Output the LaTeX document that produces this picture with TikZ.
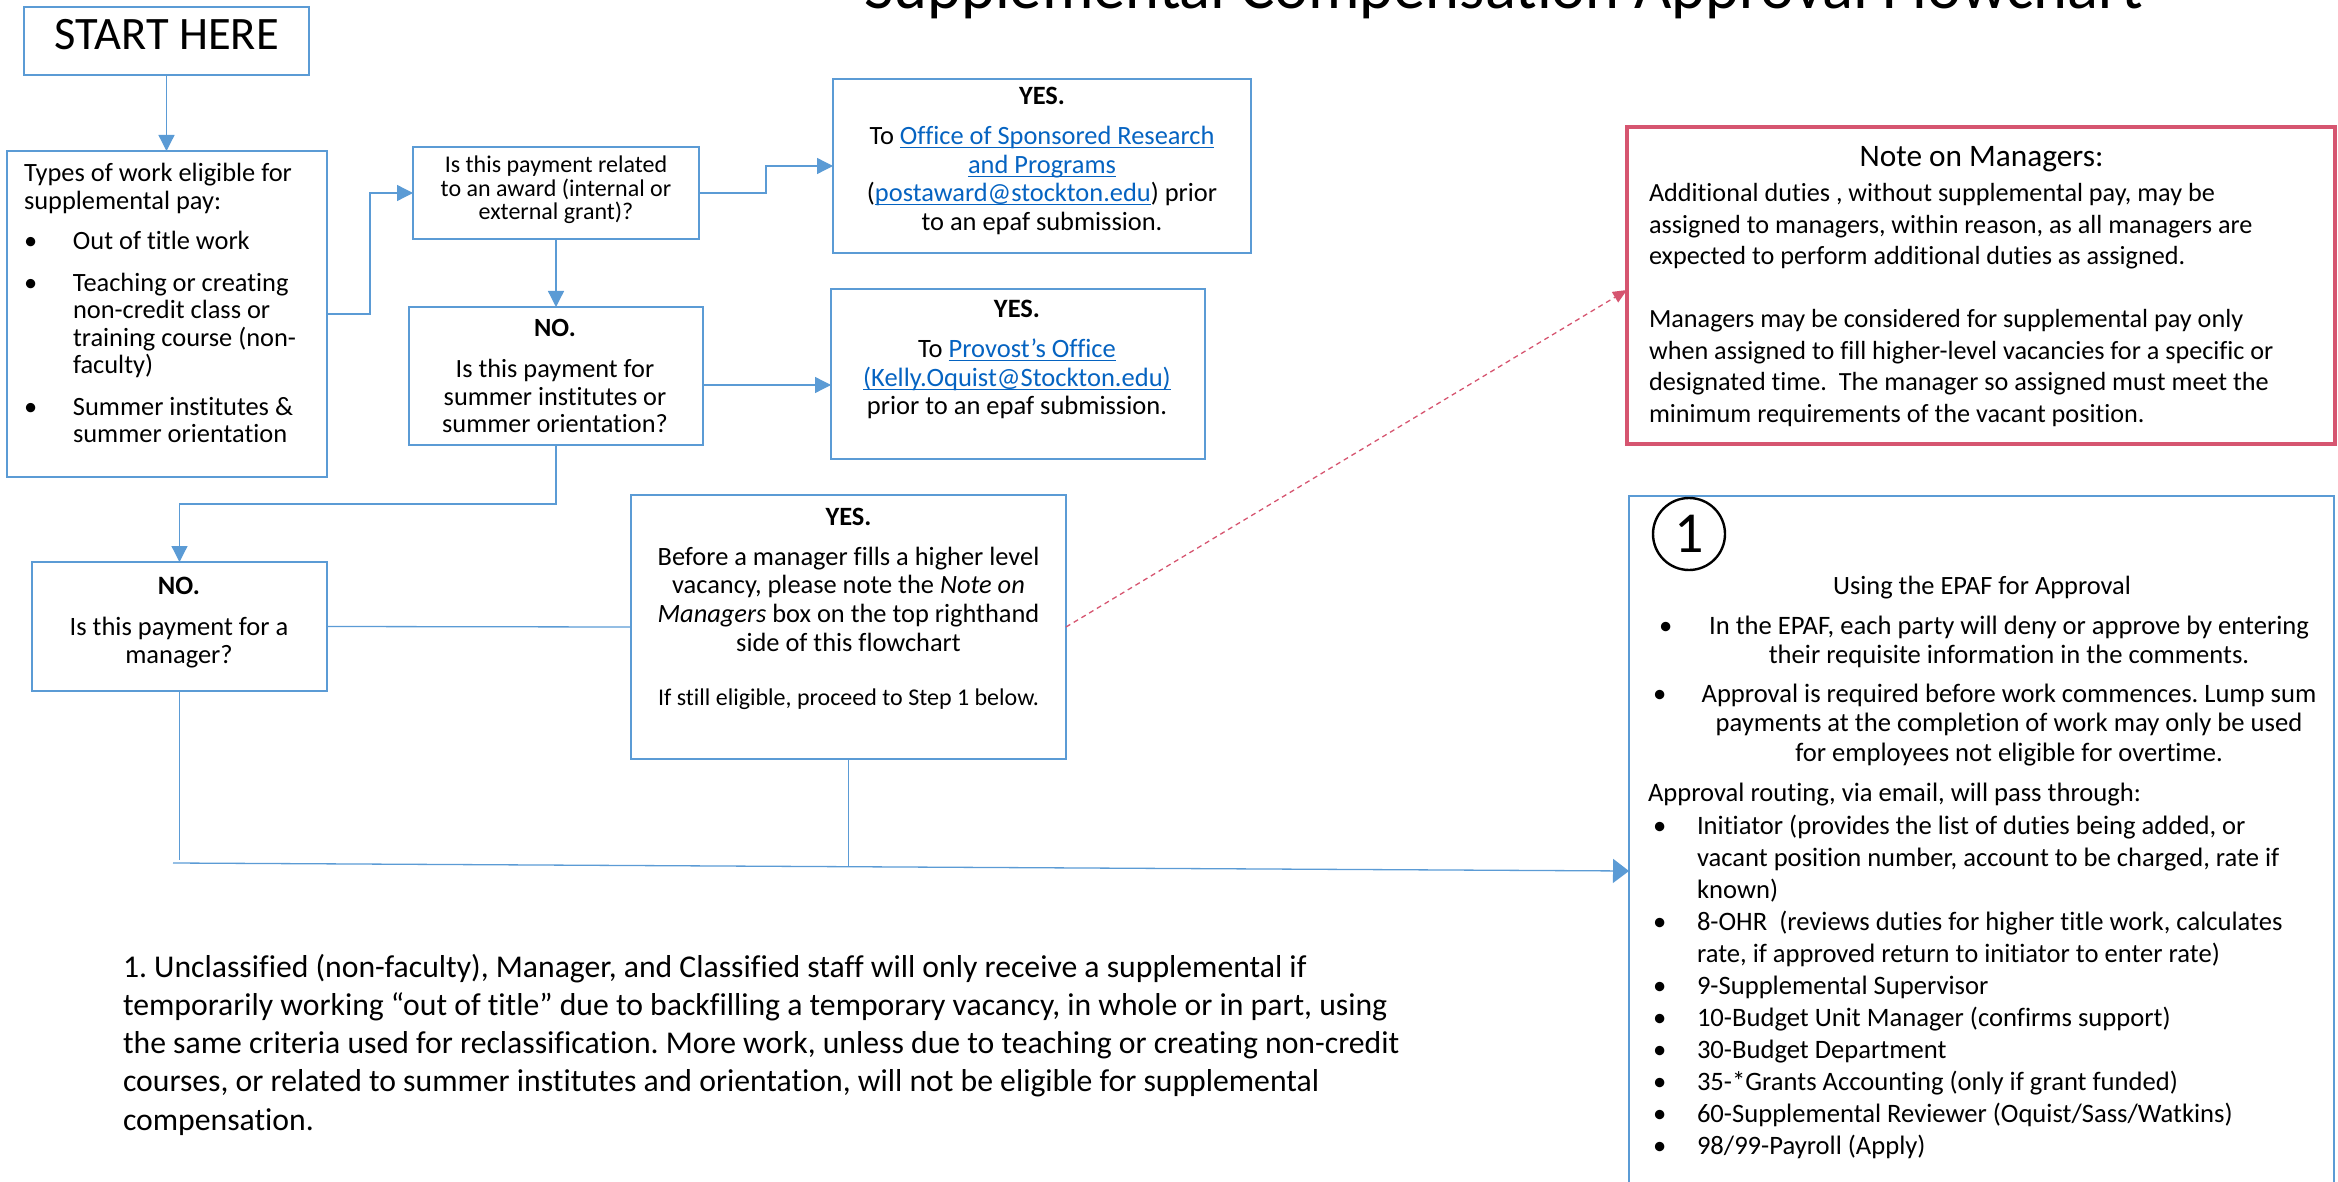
\documentclass[tikz,border=0pt]{standalone}
\usepackage{fontspec}
\setmainfont{Carlito}[Ligatures=CommonOff]
\usetikzlibrary{arrows.meta}
\definecolor{boxblue}{RGB}{91,155,213}
\definecolor{linkblue}{RGB}{5,99,193}
\definecolor{notepink}{RGB}{214,85,112}
\newcommand\fs[2]{\fontsize{#1}{#2}\selectfont}
\newcommand\lnk[1]{\leavevmode{\color{linkblue}\setbox0\hbox{#1}\rlap{\rule[-3.5pt]{\wd0}{1.3pt}}\box0}}
% top-aligned text blocks: width, text
\newcommand\cblock[2]{\parbox[t]{#1}{\centering #2}}
\newcommand\lblock[2]{\parbox[t]{#1}{\raggedright #2}}
\frenchspacing
\begin{document}
\begin{tikzpicture}[x=1pt,y=-1pt,
  bbox/.style={draw=boxblue, line width=2pt, inner sep=0pt, outer sep=0pt},
  conn/.style={draw=boxblue, line width=1.3pt},
  arr/.style={conn, -{Triangle[length=16pt,width=16pt]}},
  txt/.style={inner sep=0pt, outer sep=0pt, text=black},
]
\useasboundingbox (0,0) rectangle (2338,1182);
\clip (0,0) rectangle (2338,1182);

% title (cut off at the top)
\node[txt, anchor=base, font=\fs{64.5}{70}] (title) at (1503.5,9) {Supplemental Compensation Approval Flowchart};

% boxes
\node[bbox, minimum width=285pt, minimum height=68pt] (start) at (166.5,41) {};
\node[bbox, minimum width=320pt, minimum height=326pt] (types) at (167,314) {};
\node[bbox, minimum width=286pt, minimum height=92pt] (award) at (556,193) {};
\node[bbox, minimum width=294pt, minimum height=138pt] (nosum) at (556,376) {};
\node[bbox, minimum width=418pt, minimum height=174pt] (yes1) at (1042,166) {};
\node[bbox, minimum width=374pt, minimum height=170pt] (yes2) at (1018,374) {};
\node[bbox, minimum width=295pt, minimum height=129pt] (nomgr) at (179.5,626.5) {};
\node[bbox, minimum width=435pt, minimum height=264pt] (yesmgr) at (848.5,627) {};
\node[draw=notepink, line width=3.5pt, inner sep=0pt, outer sep=0pt, minimum width=708pt, minimum height=317pt] (note) at (1981,285.5) {};
\node[bbox, minimum width=705pt, minimum height=754pt] (epaf) at (1981.5,873) {};

% texts
\node[txt, anchor=base, font=\fs{46.5}{56}] (startT) at (166.5,50) {START HERE};

\node[txt, anchor=base west, font=\fs{26.4}{27.5}] (typesT) at (24,182)
 {\lblock{300pt}{Types of work eligible for\\
  supplemental pay:\\[13pt]
  \makebox[49pt][l]{•}Out of title work\\[14pt]
  \makebox[49pt][l]{•}Teaching or creating\\
  \hspace*{49pt}non-credit class or\\
  \hspace*{49pt}training course (non-\\
  \hspace*{49pt}faculty)\\[14pt]
  \makebox[49pt][l]{•}Summer institutes \&\\
  \hspace*{49pt}summer orientation}};

\node[txt, anchor=base, font=\fs{24}{23.5}] (awardT) at (556,173)
 {\cblock{280pt}{Is this payment related\\ to an award (internal or\\ external grant)?}};

\node[txt, anchor=base, font=\fs{26.3}{27.5}] (nosumT) at (555,337)
 {\cblock{290pt}{\textbf{NO.}\\[13.5pt] Is this payment for\\ summer institutes or\\ summer orientation?}};

\node[txt, anchor=base, font=\fs{26.4}{28.5}] (yes1T) at (1042,105)
 {\cblock{414pt}{\textbf{YES.}\\[11.5pt] To \lnk{Office of Sponsored Research}\\ \lnk{and Programs}\\ (\lnk{postaward@stockton.edu}) prior\\ to an epaf submission.}};

\node[txt, anchor=base, font=\fs{26.5}{28.5}] (yes2T) at (1017,318)
 {\cblock{370pt}{\textbf{YES.}\\[11.5pt] To \lnk{Provost’s Office}\\ \lnk{(Kelly.Oquist@Stockton.edu)}\\ prior to an epaf submission.}};

\node[txt, anchor=base, font=\fs{26.5}{28}] (nomgrT) at (179,594)
 {\cblock{290pt}{\textbf{NO.}\\[13pt] Is this payment for a\\ manager?}};

\node[txt, anchor=base, font=\fs{26.4}{28.7}] (yesmgrT) at (848.5,525)
 {\cblock{430pt}{\textbf{YES.}\\[11.5pt] Before a manager fills a higher level\\ vacancy, please note the \textit{Note on}\\ \textit{Managers} box on the top righthand\\ side of this flowchart\\[25pt] {\fs{24}{28.7}If still eligible, proceed to Step 1 below.}}};

\node[txt, anchor=base, font=\fs{31.3}{36}] (noteT) at (1981.5,167) {Note on Managers:};
\node[txt, anchor=base west, font=\fs{26.2}{31.5}] (noteB) at (1649,202)
 {\lblock{680pt}{Additional duties , without supplemental pay, may be\\
  assigned to managers, within reason, as all managers are\\
  expected to perform additional duties as assigned.\\[31.5pt]
  Managers may be considered for supplemental pay only\\
  when assigned to fill higher-level vacancies for a specific or\\
  designated time.\ \ The manager so assigned must meet the\\
  minimum requirements of the vacant position.}};

\node[draw=black, line width=2.4pt, circle, minimum size=72pt, inner sep=0pt, font=\fs{58}{60}] (one) at (1689,534) {1};
\node[txt, anchor=base, font=\fs{26.4}{31}] (epafH) at (1982,594) {Using the EPAF for Approval};
\node[txt, anchor=base west, font=\fs{26.6}{29}] (epafB1) at (1659,634)
 {\makebox[37pt][l]{•}\cblock{626pt}{In the EPAF, each party will deny or approve by entering\\ their requisite information in the comments.}};
\node[txt, anchor=base west, font=\fs{26.6}{29.5}] (epafB2) at (1653,702)
 {\makebox[43pt][l]{•}\cblock{626pt}{Approval is required before work commences. Lump sum\\ payments at the completion of work may only be used\\ for employees not eligible for overtime.}};
\node[txt, anchor=base west, font=\fs{26.6}{32}] (epafL) at (1648,801)
 {\lblock{685pt}{Approval routing, via email, will pass through:\\[1pt]
  \hspace*{5pt}\makebox[44pt][l]{•}Initiator (provides the list of duties being added, or\\
  \hspace*{49pt}vacant position number, account to be charged, rate if\\
  \hspace*{49pt}known)\\
  \hspace*{5pt}\makebox[44pt][l]{•}8-OHR\ \ (reviews duties for higher title work, calculates\\
  \hspace*{49pt}rate, if approved return to initiator to enter rate)\\
  \hspace*{5pt}\makebox[44pt][l]{•}9-Supplemental Supervisor\\
  \hspace*{5pt}\makebox[44pt][l]{•}10-Budget Unit Manager (confirms support)\\
  \hspace*{5pt}\makebox[44pt][l]{•}30-Budget Department\\
  \hspace*{5pt}\makebox[44pt][l]{•}35-*Grants Accounting (only if grant funded)\\
  \hspace*{5pt}\makebox[44pt][l]{•}60-Supplemental Reviewer (Oquist/Sass/Watkins)\\
  \hspace*{5pt}\makebox[44pt][l]{•}98/99-Payroll (Apply)}};

\node[txt, anchor=base west, font=\fs{31.7}{38.25}] (foot) at (123,977)
 {\lblock{1450pt}{1. Unclassified (non-faculty), Manager, and Classified staff will only receive a supplemental if\\
  temporarily working “out of title” due to backfilling a temporary vacancy, in whole or in part, using\\
  the same criteria used for reclassification. More work, unless due to teaching or creating non-credit\\
  courses, or related to summer institutes and orientation, will not be eligible for supplemental\\
  compensation.}};

% helper coordinates
\coordinate (y385) at (0,385);
\coordinate (y290) at (0,290);
\coordinate (y860) at (0,860);
\coordinate (y867) at (0,867);
\coordinate (y871) at (0,871);
\coordinate (hl) at (173,863);

% connectors
\draw[arr] (start.south) -- (start.south |- types.north);
\draw[arr] (types.east) -- ++(43,0) |- (award.west);
\draw[arr] (award.east) -- ++(67,0) |- (yes1.west);
\draw[arr] (award.south) -- (nosum.north);
\draw[arr] (nosum.east |- y385) -- (yes2.west |- y385);
\draw[arr] (nosum.south) -- ++(0,59) -| (nomgr.north);
\draw[conn] (nomgr.east) -- (yesmgr.west);
\draw[notepink, line width=1.3pt, dash pattern=on 5pt off 4pt, -{Triangle[length=14pt,width=12pt]}] (yesmgr.east) -- (note.west |- y290);
\draw[conn] (nomgr.south) -- (nomgr.south |- y860);
\draw[conn] (yesmgr.south) -- (yesmgr.south |- y867);
\draw[conn, -{Triangle[length=16pt,width=24pt]}] (hl) -- (epaf.west |- y871);
\end{tikzpicture}
\end{document}
